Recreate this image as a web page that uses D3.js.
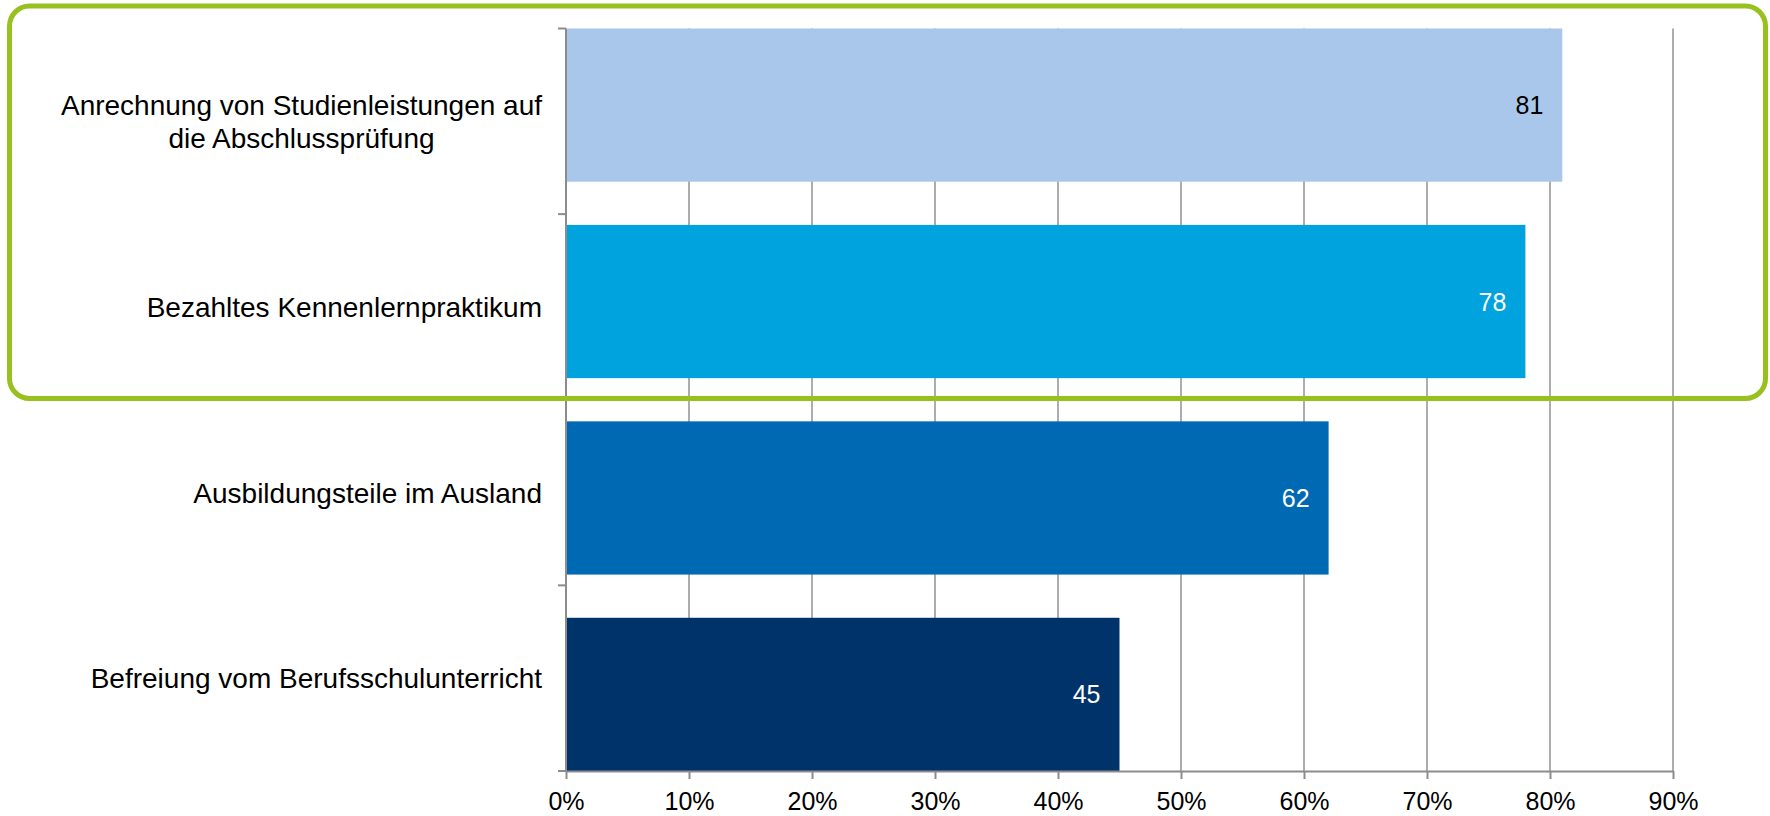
<!DOCTYPE html>
<html><head><meta charset="utf-8">
<script src="https://cdn.jsdelivr.net/npm/d3@7"></script>
<style>body{margin:0;background:#fff;} svg{display:block;font-family:"Liberation Sans",Arial,sans-serif;}</style>
</head><body><svg id="c" width="1770" height="816"></svg>
<script>
const categories = [
  ["Anrechnung von Studienleistungen auf", "die Abschlussprüfung"],
  ["Bezahltes Kennenlernpraktikum"],
  ["Ausbildungsteile im Ausland"],
  ["Befreiung vom Berufsschulunterricht"]
];
const values = [81, 78, 62, 45];
const barColors = ["#a9c7ea", "#00a3dd", "#0069b4", "#003369"];
const valueColors = ["#000000", "#ffffff", "#ffffff", "#ffffff"];
const xTicks = [0, 10, 20, 30, 40, 50, 60, 70, 80, 90];

const svg = d3.select("#c");
const x0 = 566, x1 = 1673, yTop = 28.5, yBot = 771;
const x = d3.scaleLinear().domain([0, 90]).range([x0, x1]);
const ids = categories.map((d, i) => i);
const yBand = d3.scaleBand().domain(ids).range([yTop, yBot]).paddingInner(0.22).paddingOuter(0);
const yCat = d3.scaleBand().domain(ids).range([yTop, yBot]).padding(0);

// gridlines
svg.append("g").selectAll("line").data(xTicks.slice(1)).join("line")
  .attr("x1", d => x(d)).attr("x2", d => x(d))
  .attr("y1", yTop).attr("y2", yBot)
  .attr("stroke", "#999").attr("stroke-width", 1.6);

// bars
svg.append("g").selectAll("rect").data(values).join("rect")
  .attr("x", x(0)).attr("y", (d, i) => yBand(i))
  .attr("width", d => x(d) - x(0)).attr("height", yBand.bandwidth())
  .attr("fill", (d, i) => barColors[i]);

// value labels
svg.append("g").selectAll("text").data(values).join("text")
  .attr("x", d => x(d) - 19).attr("y", (d, i) => yBand(i) + yBand.bandwidth() / 2)
  .attr("dy", "0.36em").attr("text-anchor", "end")
  .attr("font-size", 25).attr("fill", (d, i) => valueColors[i]).text(d => d);

// x axis
const xAxis = d3.axisBottom(x).tickValues(xTicks).tickFormat(d => d + "%").tickSize(8).tickSizeOuter(0);
const gx = svg.append("g").attr("transform", `translate(0,${yBot})`).call(xAxis);
gx.select(".domain").attr("stroke", "#8c8c8c").attr("stroke-width", 2);
gx.selectAll(".tick line").attr("stroke", "#8c8c8c").attr("stroke-width", 2);
gx.selectAll(".tick text").attr("font-size", 25).attr("fill", "#000").attr("y", 21).attr("dy", "0.71em");

// y axis line and ticks at category boundaries
const bounds = ids.map(i => yCat(i)).concat([yBot]);
svg.append("line").attr("x1", x0).attr("x2", x0).attr("y1", yTop).attr("y2", yBot)
  .attr("stroke", "#8c8c8c").attr("stroke-width", 2);
svg.append("g").selectAll("line").data(bounds).join("line")
  .attr("x1", x0 - 8).attr("x2", x0).attr("y1", d => d).attr("y2", d => d)
  .attr("stroke", "#8c8c8c").attr("stroke-width", 2);

// category labels
const right = 542, lh = 32.4;
categories.forEach((lines, i) => {
  const cy = yCat(i) + yCat.bandwidth() / 2;
  const g = svg.append("g");
  const texts = lines.map((t, j) => g.append("text")
    .attr("font-size", 28).attr("fill", "#000")
    .attr("y", cy + (j - (lines.length - 1) / 2) * lh).attr("dy", "0.36em").text(t));
  const w = Math.max(...texts.map(t => t.node().getComputedTextLength()));
  texts.forEach(t => t.attr("x", right - w / 2).attr("text-anchor", "middle"));
});

// highlight box
svg.append("rect").attr("x", 9.5).attr("y", 6).attr("width", 1756).attr("height", 392.5)
  .attr("rx", 20).attr("ry", 20).attr("fill", "none")
  .attr("stroke", "#97c11f").attr("stroke-width", 5);
</script></body></html>
